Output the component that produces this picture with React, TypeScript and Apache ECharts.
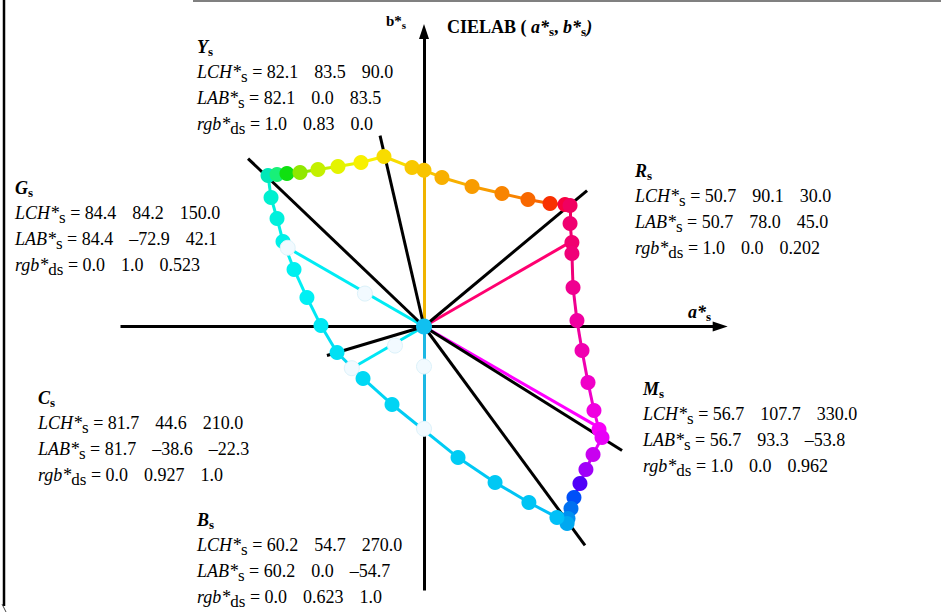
import React, { useEffect, useRef } from 'react';
import * as echarts from 'echarts';

const W = 941;
const H = 616;
const OX = 424; // pixel position of the origin
const OY = 326.5;
const S = 1.87; // pixels per CIELAB unit

// ---------- data ----------
const PRIMARY_NAMES = ['Y', 'G', 'R', 'M', 'C', 'B'];
const LCH_L = [82.1, 84.4, 50.7, 56.7, 81.7, 60.2];
const LCH_C = [83.5, 84.2, 90.1, 107.7, 44.6, 54.7];
const LCH_H = [90.0, 150.0, 30.0, 330.0, 210.0, 270.0];
const LAB_L = [82.1, 84.4, 50.7, 56.7, 81.7, 60.2];
const LAB_A = [0.0, -72.9, 78.0, 93.3, -38.6, 0.0];
const LAB_B = [83.5, 42.1, 45.0, -53.8, -22.3, -54.7];
const RGB_R = ['1.0', '0.0', '1.0', '1.0', '0.0', '0.0'];
const RGB_G = ['0.83', '1.0', '0.0', '0.0', '0.927', '0.623'];
const RGB_B = ['0.0', '0.523', '0.202', '0.962', '1.0', '1.0'];
const PRIMARY_COLORS = ['#f0b400', '#00ecf4', '#ff0070', '#ff00ff', '#00e6f4', '#1cb8e4'];
const WHITE_END = [false, true, false, false, true, true];

// white mid dots on the G, C, B radial lines
const MID_A = [-31.6, -15.5, 0.0];
const MID_B = [17.6, -10.2, -21.4];

// black hue rays (end points)
const RAY_A = [87.2, -23.5, -94.1, -51.9, 86.1, 105.9];
const RAY_B = [72.7, 102.1, 89.8, -15.5, -117.1, -66.3];

// colour loop (boundary)
const LOOP_A = [
  -83.4, -78.6, -73.3, -66.3, -56.7, -46.0, -33.7, -21.4, -6.4, 0.0, 9.6, 25.7, 41.7, 55.6, 67.4, 75.4, 78.1,
  78.1, 79.1, 79.1, 79.7, 81.8, 84.5, 87.7, 90.9, 93.6, 95.2, 90.4, 86.6, 83.4, 80.2, 78.6, 77.0, 76.5,
  71.1, 56.1, 38.0, 18.2, -17.1, -32.6, -46.5,
  -55.1, -62.6, -69.5, -75.4, -78.6, -81.8,
];
const LOOP_B = [
  80.7, 81.3, 81.8, 82.4, 84.0, 85.6, 87.7, 90.9, 85.0, 83.5, 79.7, 74.9, 71.1, 67.9, 65.8, 65.2, 64.7,
  55.1, 44.9, 39.0, 20.9, 3.2, -12.8, -29.9, -44.9, -55.1, -59.4, -68.4, -76.5, -84.0, -91.4, -97.3, -102.7, -105.3,
  -102.1, -94.1, -83.4, -70.1, -41.7, -27.8, -13.9,
  0.5, 15.5, 30.5, 45.5, 57.8, 69.0,
];
const LOOP_COLORS = [
  '#00e8b8', '#18f078', '#10e010', '#90e800', '#c4f000', '#e4f400', '#f8f000', '#f8dc00', '#f8c800', '#f8c400',
  '#f8b000', '#f89c00', '#f88400', '#f86800', '#f83000', '#f80040', '#f00060',
  '#f00070', '#f00070', '#f00078', '#f00090', '#f000a0', '#f000b0', '#f000c8', '#f000e0', '#f800f8', '#e800f8',
  '#c800f0', '#a000f8', '#5000f8', '#0050f8', '#0070f0', '#0090f0', '#00a8f0',
  '#00c0f8', '#00c4f4', '#00c8f4', '#00ccf4', '#00d4f4', '#00d8f4', '#00e0f4',
  '#00e8f4', '#00f0f4', '#00f0f0', '#00f0e8', '#00f0dc', '#00f0d0',
];

// axes extents (a*, b*)
const AXIS_A = [-162.3, 158.4];
const AXIS_B = [-141.2, 157.8];

// ---------- layout ----------
const FONT = '"Liberation Serif", "Times New Roman", Times, serif';
const BLOCK_POS: Record<string, [number, number]> = {
  Y: [197, 47],
  G: [15, 188],
  R: [635, 171],
  M: [643, 389],
  C: [38, 398],
  B: [197, 520],
};

const fmt = (v: number) => (v < 0 ? '\u2013' : '') + Math.abs(v).toFixed(1);
const NB = '\u00a0';

const rich: any = {
  it: { fontFamily: FONT, fontSize: 18, fontStyle: 'italic', lineHeight: 26, fill: '#000' },
  r: { fontFamily: FONT, fontSize: 18, lineHeight: 26, fill: '#000' },
  n: { fontFamily: FONT, fontSize: 18, lineHeight: 26, padding: [0, 0, 0, 16], fill: '#000' },
  sub: { fontFamily: FONT, fontSize: 17, verticalAlign: 'bottom', fill: '#000' },
  tb: { fontFamily: FONT, fontSize: 18, fontStyle: 'italic', fontWeight: 'bold', lineHeight: 22, fill: '#000' },
  tsub: { fontFamily: FONT, fontSize: 13, fontWeight: 'bold', verticalAlign: 'bottom', fill: '#000' },
  hb: { fontFamily: FONT, fontSize: 18, fontWeight: 'bold', lineHeight: 22, fill: '#000' },
  hbi: { fontFamily: FONT, fontSize: 18, fontWeight: 'bold', fontStyle: 'italic', lineHeight: 22, fill: '#000' },
  hs: { fontFamily: FONT, fontSize: 13, fontWeight: 'bold', verticalAlign: 'bottom', fill: '#000' },
  bb: { fontFamily: FONT, fontSize: 15, fontWeight: 'bold', lineHeight: 18, fill: '#000' },
  bs: { fontFamily: FONT, fontSize: 11, fontWeight: 'bold', verticalAlign: 'bottom', fill: '#000' },
};

const textEl = (x: number, y: number, text: string) => ({
  type: 'text',
  x,
  y,
  silent: true,
  z: 100,
  style: { text, rich, align: 'left', verticalAlign: 'middle', fontFamily: FONT, fontSize: 18, fill: '#000' },
});

function buildGraphic() {
  const els: any[] = [];
  PRIMARY_NAMES.forEach((name, i) => {
    const [x, y] = BLOCK_POS[name];
    els.push(textEl(x, y, `{tb|${name}}{tsub|s}`));
    els.push(
      textEl(x, y + 25, `{it|LCH*}{sub|s}{r|${NB}=${NB}${fmt(LCH_L[i])}}{n|${fmt(LCH_C[i])}}{n|${fmt(LCH_H[i])}}`)
    );
    els.push(
      textEl(x, y + 51, `{it|LAB*}{sub|s}{r|${NB}=${NB}${fmt(LAB_L[i])}}{n|${fmt(LAB_A[i])}}{n|${fmt(LAB_B[i])}}`)
    );
    els.push(textEl(x, y + 77, `{it|rgb*}{sub|ds}{r|${NB}=${NB}${RGB_R[i]}}{n|${RGB_G[i]}}{n|${RGB_B[i]}}`));
  });
  // axis names and title
  els.push(textEl(386, 21, `{bb|b*}{bs|s}`));
  els.push(textEl(688, 312, `{hbi|a*}{hs|s}`));
  els.push(
    textEl(447, 27, `{hb|CIELAB${NB}(${NB}}{hbi|a*}{hs|s}{hb|,${NB}}{hbi|b*}{hs|s}{hbi|)}`)
  );
  // frame
  els.push({ type: 'line', silent: true, shape: { x1: 193, y1: 1, x2: W, y2: 1 }, style: { stroke: '#808080', lineWidth: 2 } });
  els.push({ type: 'line', silent: true, shape: { x1: 4, y1: 0, x2: 4, y2: 606 }, style: { stroke: '#000', lineWidth: 2.5 } });
  els.push({ type: 'line', silent: true, shape: { x1: 2, y1: 604, x2: 6, y2: 612 }, style: { stroke: '#444', lineWidth: 1 } });
  return els;
}

function buildOption(): any {
  const seg = (a1: number, b1: number, a2: number, b2: number, color: string) => ({
    coords: [
      [a1, b1],
      [a2, b2],
    ],
    lineStyle: { color, width: 3, opacity: 1 },
  });

  const axes = [seg(AXIS_A[0], 0, AXIS_A[1], 0, '#000'), seg(0, AXIS_B[0], 0, AXIS_B[1], '#000')];

  const radial = PRIMARY_NAMES.map((_, i) => seg(0, 0, LAB_A[i], LAB_B[i], PRIMARY_COLORS[i]));

  const loopSegs = LOOP_A.map((a, i) => {
    const j = (i + 1) % LOOP_A.length;
    return seg(a, LOOP_B[i], LOOP_A[j], LOOP_B[j], LOOP_COLORS[i]);
  });

  const rays = RAY_A.map((a, i) => seg(0, 0, a, RAY_B[i], '#000'));

  const whiteDots: any[] = [];
  PRIMARY_NAMES.forEach((_, i) => {
    if (WHITE_END[i]) whiteDots.push([LAB_A[i], LAB_B[i]]);
  });
  MID_A.forEach((a, i) => whiteDots.push([a, MID_B[i]]));

  const linesBase = { type: 'lines', coordinateSystem: 'cartesian2d', silent: true, symbol: 'none', polyline: false };

  return {
    animation: false,
    backgroundColor: '#fff',
    grid: { left: 0, right: 0, top: 0, bottom: 0 },
    xAxis: { type: 'value', min: -OX / S, max: (W - OX) / S, show: false },
    yAxis: { type: 'value', min: -(H - OY) / S, max: OY / S, show: false },
    series: [
      { ...linesBase, name: 'axes', data: axes },
      { ...linesBase, name: 'radial', data: radial },
      { ...linesBase, name: 'loop', data: loopSegs },
      {
        type: 'scatter',
        name: 'loopDots',
        silent: true,
        symbolSize: 15,
        data: LOOP_A.map((a, i) => ({ value: [a, LOOP_B[i]], itemStyle: { color: LOOP_COLORS[i], opacity: 1 } })),
      },
      {
        type: 'scatter',
        name: 'white',
        silent: true,
        symbolSize: 15,
        itemStyle: { color: '#f2faff', borderColor: '#dcf2fa', borderWidth: 1, opacity: 1 },
        data: whiteDots,
      },
      { ...linesBase, name: 'rays', data: rays },
      {
        type: 'scatter',
        name: 'arrowA',
        silent: true,
        symbol: 'triangle',
        symbolSize: [10, 15],
        symbolRotate: -90,
        itemStyle: { color: '#000', opacity: 1 },
        data: [[AXIS_A[1], 0]],
      },
      {
        type: 'scatter',
        name: 'arrowB',
        silent: true,
        symbol: 'triangle',
        symbolSize: [10, 15],
        itemStyle: { color: '#000', opacity: 1 },
        data: [[0, AXIS_B[1]]],
      },
      {
        type: 'scatter',
        name: 'origin',
        silent: true,
        symbolSize: 16,
        itemStyle: { color: '#10c0f0', opacity: 1 },
        data: [[0, 0]],
      },
    ],
    graphic: buildGraphic(),
  };
}

export default function App() {
  const ref = useRef<HTMLDivElement>(null);
  useEffect(() => {
    if (!ref.current) return;
    const chart = echarts.init(ref.current, undefined, { renderer: 'svg', width: W, height: H });
    chart.setOption(buildOption());
    return () => chart.dispose();
  }, []);
  return (
    <div
      ref={ref}
      style={{ position: 'absolute', left: 0, top: 0, width: W, height: H, background: '#fff' }}
    />
  );
}
